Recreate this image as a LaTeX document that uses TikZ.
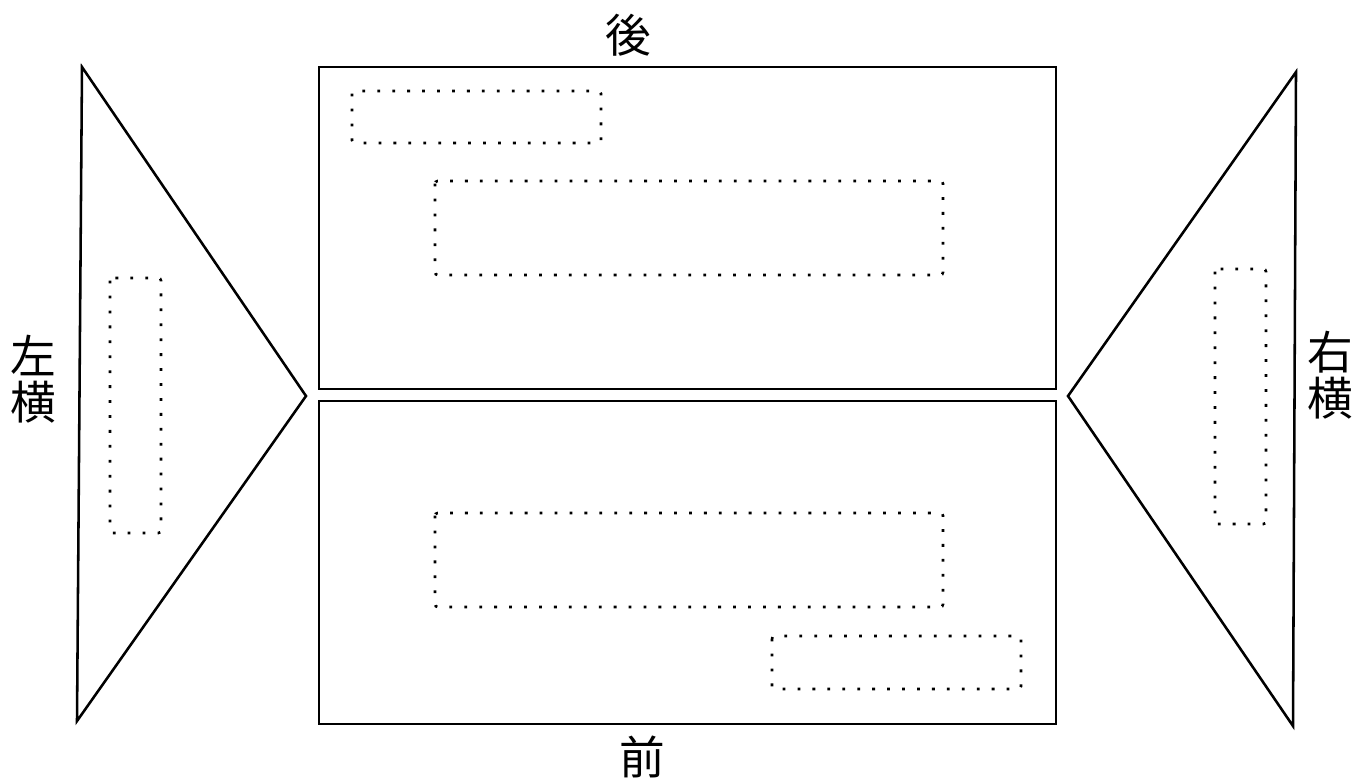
\documentclass[tikz,border=0pt]{standalone}
\usepackage{fontspec}
\newfontfamily\cjk{Noto Sans CJK JP}

\begin{document}
\begin{tikzpicture}[x=0.02cm, y=-0.02cm, line width=1.45pt,
    dotbox/.style={line width=1.5pt, dash pattern=on 1.6pt off 6.9pt, rounded corners=1.5pt},
    side/.style={font=\cjk\fontsize{26}{30}\selectfont, align=center, inner sep=0pt}]
    \useasboundingbox (0,0) rectangle (1368,779);

    % Draw the back and front panels
    \draw (319,67) rectangle (1056,389);
    \draw (319,401) rectangle (1056,724);

    % Draw the two side triangles
    \draw (82,67) -- (306,396) -- (77,721) -- cycle;
    \draw (1296,72) -- (1068,396) -- (1293,726) -- cycle;

    % Dotted boxes in the back panel
    \draw[dotbox] (352,91) rectangle (601,143);
    \draw[dotbox] (435,181) rectangle (943,275);

    % Dotted boxes in the front panel
    \draw[dotbox] (435,513) rectangle (943,607);
    \draw[dotbox] (772,636) rectangle (1021,689);

    % Dotted boxes in the sides
    \draw[dotbox] (110,278) rectangle (161,533);
    \draw[dotbox] (1215,269) rectangle (1266,524);

    % Label the four sides
    \node[side] (back) at (628,35) {後};
    \node[side] (front) at (642,757) {前};
    \node[side] (left) at (33,379) {左\\[-4pt]横};
    \node[side] (right) at (1330,375) {右\\[-4pt]横};
\end{tikzpicture}
\end{document}
